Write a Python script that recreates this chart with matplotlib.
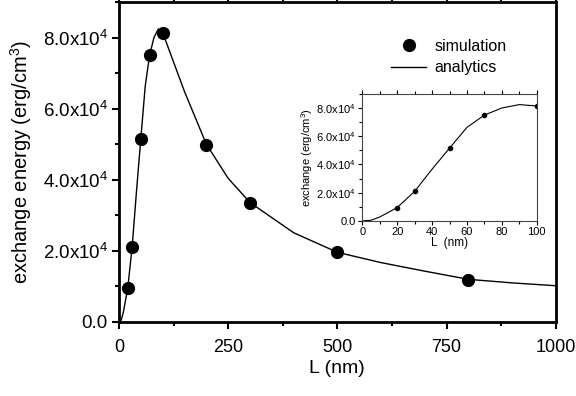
import matplotlib
matplotlib.use("Agg")
import matplotlib.pyplot as plt
from matplotlib.ticker import MultipleLocator, FuncFormatter

plt.rcParams['font.family'] = ['Liberation Sans', 'DejaVu Sans']
plt.rcParams['mathtext.fontset'] = 'custom'
plt.rcParams['mathtext.rm'] = 'Liberation Sans'
plt.rcParams['mathtext.it'] = 'Liberation Sans:italic'

# simulation points (L in nm, energy in erg/cm^3)
sim_L = [20, 30, 50, 70, 100, 200, 300, 500, 800]
sim_E = [0.95e4, 2.1e4, 5.15e4, 7.5e4, 8.12e4, 4.98e4, 3.36e4, 1.96e4, 1.19e4]

# analytic curve
ana_L = [0, 5, 10, 20, 30, 40, 50, 60, 70, 80, 90, 100, 150, 200, 250,
         300, 400, 500, 600, 700, 800, 900, 1000]
ana_E = [0, 0.05e4, 0.28e4, 0.95e4, 2.1e4, 3.67e4, 5.16e4, 6.63e4, 7.5e4,
         8.0e4, 8.24e4, 8.14e4, 6.48e4, 5.0e4, 4.04e4, 3.36e4, 2.51e4,
         1.96e4, 1.67e4, 1.43e4, 1.2e4, 1.1e4, 1.02e4]


def sci_fmt(v, pos):
    if v == 0:
        return "0.0"
    exp = 4
    return "%.1fx10$^{%d}$" % (v / 10 ** exp, exp)


fig = plt.figure(figsize=(5.76, 3.96), dpi=100)
ax = fig.add_axes([0.2066, 0.1869, 0.7582, 0.808])

ax.plot(ana_L, ana_E, color='black', lw=1.0, label='analytics', zorder=2)
ax.plot(sim_L, sim_E, 'o', color='black', ms=8.5, label='simulation', zorder=3)

ax.set_xlim(0, 1000)
ax.set_ylim(0, 9.0e4)
ax.xaxis.set_major_locator(MultipleLocator(250))
ax.xaxis.set_minor_locator(MultipleLocator(125))
ax.yaxis.set_major_locator(MultipleLocator(2e4))
ax.yaxis.set_minor_locator(MultipleLocator(1e4))
ax.yaxis.set_major_formatter(FuncFormatter(sci_fmt))
ax.tick_params(which='major', direction='out', length=5, width=1.5, labelsize=13.5, pad=3, top=True)
ax.tick_params(axis='x', which='major', labelsize=13, pad=7)
ax.tick_params(which='minor', direction='out', length=3, width=1.5, top=True)
for s in ax.spines.values():
    s.set_linewidth(2)
ax.set_xlabel("L (nm)", fontsize=14, labelpad=3)
ax.set_ylabel("exchange energy (erg/cm$^3$)", fontsize=14.5, labelpad=6)

handles, labels = ax.get_legend_handles_labels()
ax.legend(handles[::-1], labels[::-1], loc='upper left', bbox_to_anchor=(0.59, 0.93),
          frameon=False, fontsize=11.5, handlelength=2.2, handletextpad=0.5,
          labelspacing=0.4)

# inset
ins = fig.add_axes([0.629, 0.442, 0.303, 0.321])
ins.plot(ana_L, ana_E, color='black', lw=0.8)
ins.plot(sim_L, sim_E, 'o', color='black', ms=3)
ins.set_xlim(0, 100)
ins.set_ylim(0, 9.0e4)
ins.xaxis.set_major_locator(MultipleLocator(20))
ins.xaxis.set_minor_locator(MultipleLocator(10))
ins.yaxis.set_major_locator(MultipleLocator(2e4))
ins.yaxis.set_minor_locator(MultipleLocator(1e4))
ins.yaxis.set_major_formatter(FuncFormatter(sci_fmt))
ins.tick_params(which='major', direction='out', length=3, width=0.8, labelsize=8, pad=1.5, top=True)
ins.tick_params(which='minor', direction='out', length=2, width=0.8, top=True)
for s in ins.spines.values():
    s.set_linewidth(0.8)
    s.set_color('#444444')
ins.set_xlabel("L  (nm)", fontsize=8.5, labelpad=0)
ins.set_ylabel("exchange (erg/cm$^3$)", fontsize=8, labelpad=1)

fig.savefig("out.png", dpi=100)
